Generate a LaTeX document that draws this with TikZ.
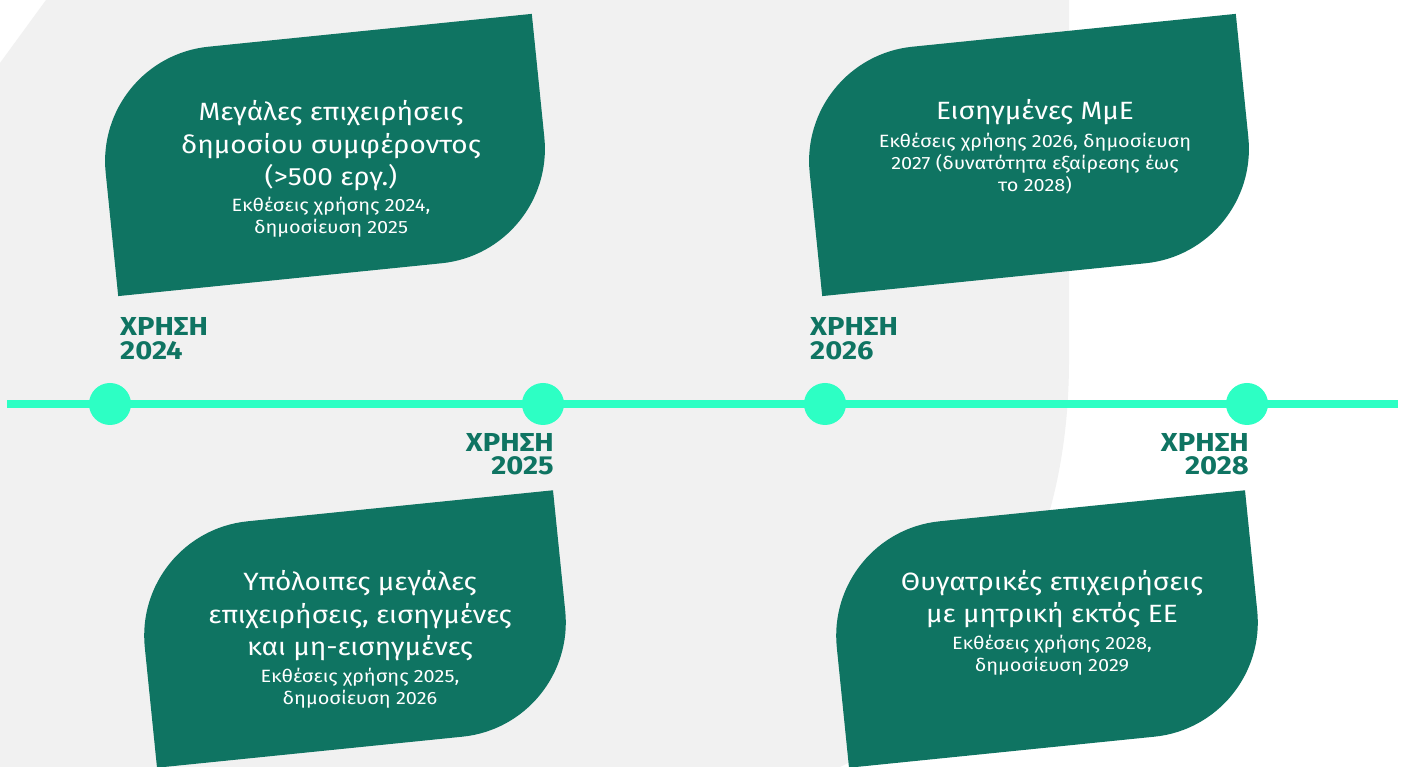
\documentclass[tikz,border=0pt]{standalone}
\usepackage{fontspec}
\setmainfont{Fira Sans}[FakeStretch=1.12]
\usetikzlibrary{positioning}
\definecolor{leafgreen}{RGB}{15,116,98}
\definecolor{mint}{RGB}{45,255,196}
\definecolor{paper}{RGB}{241,241,241}
% leaf: centre x, centre y, width, height
\newcommand{\leafshape}[4]{%
  \fill[leafgreen, shift={(#1,#2)}, rotate=5.8]
    (-#3/2,-#4/2) -- (-#3/2,#4/2-115) arc[start angle=180, end angle=90, radius=115]
    -- (#3/2,#4/2) -- (#3/2,-#4/2+115) arc[start angle=0, end angle=-90, radius=115] -- cycle;}
\begin{document}
\begin{tikzpicture}[x=1pt, y=1pt,
    leaftitle/.style = {text=white, align=center, inner sep=0pt, anchor=base, font=\fontsize{25}{32.5}\selectfont},
    leafnote/.style = {text=white, align=center, inner sep=0pt, anchor=base, font=\fontsize{17.8}{22}\selectfont},
    yearlabel/.style = {text=leafgreen, inner sep=0pt, font=\bfseries\fontsize{26}{23.6}\selectfont}]
    \useasboundingbox (0,0) rectangle (1405,767);
    \fill[white] (0,0) rectangle (1405,767);
    % grey backdrop
    \fill[paper] (0,704) -- (46,767) -- (1069,767) -- (1069,407)
        .. controls (1069,207) and (980,67) .. (840,0) -- (0,0) -- cycle;

    \leafshape{325}{612}{440}{239}
    \leafshape{1029}{612}{440}{239}
    \leafshape{355}{138}{422}{236}
    \leafshape{1047}{138}{422}{236}

    % timeline
    \coordinate (start) at (7,363);
    \coordinate (end) at (1398,363);
    \draw[mint, line width=7.5pt] (start) -- (end);
    \foreach \name/\x in {y24/110, y25/543, y26/825, y28/1247}
        \fill[mint] (\x,363) circle (21) coordinate (\name);

    % base = last line
    \node[yearlabel, anchor=base west, align=left] (l24) at (120,407.7) {ΧΡΗΣΗ\\2024};
    \node[yearlabel, anchor=base east, align=right] (l25) at (554,292) {ΧΡΗΣΗ\\2025};
    \node[yearlabel, anchor=base west, align=left] (l26) at (810,407.7) {ΧΡΗΣΗ\\2026};
    \node[yearlabel, anchor=base east, align=right] (l28) at (1249,292) {ΧΡΗΣΗ\\2028};

    % leaf texts
    \node[leaftitle] (t24) at (331,581.3) {Μεγάλες επιχειρήσεις\\δημοσίου συμφέροντος\\(>500 εργ.)};
    \node[leafnote] (n24) at (331,533) {Εκθέσεις χρήσης 2024,\\δημοσίευση 2025};
    \node[leaftitle] (t26) at (1035,647) {Εισηγμένες ΜμΕ};
    \node[leafnote] (n26) at (1035,575.7) {Εκθέσεις χρήσης 2026, δημοσίευση\\2027 (δυνατότητα εξαίρεσης έως\\το 2028)};
    \node[leaftitle] (t25) at (360,111.3) {Υπόλοιπες μεγάλες\\επιχειρήσεις, εισηγμένες\\και μη-εισηγμένες};
    \node[leafnote] (n25) at (360,62.3) {Εκθέσεις χρήσης 2025,\\δημοσίευση 2026};
    \node[leaftitle] (t28) at (1052,144.3) {Θυγατρικές επιχειρήσεις\\με μητρική εκτός ΕΕ};
    \node[leafnote] (n28) at (1052,95.5) {Εκθέσεις χρήσης 2028,\\δημοσίευση 2029};
\end{tikzpicture}
\end{document}
